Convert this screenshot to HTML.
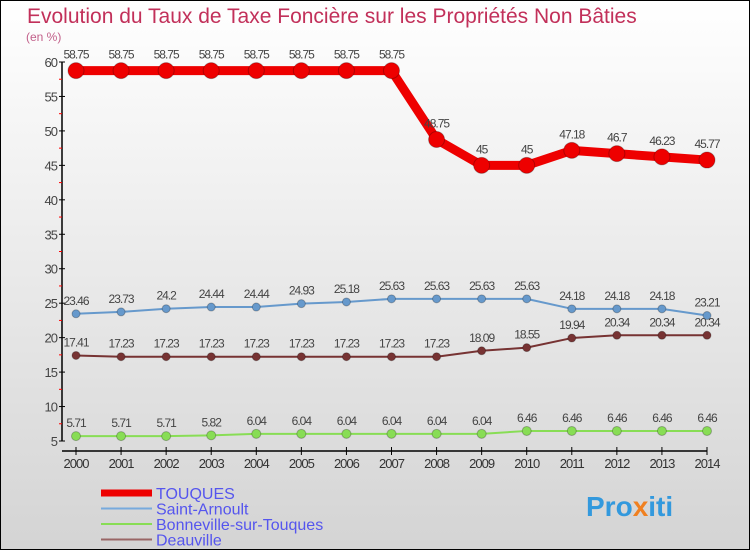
<!DOCTYPE html>
<html><head><meta charset="utf-8"><style>
body{margin:0}
#c{width:750px;height:550px;position:relative;box-sizing:border-box;border:1px solid #000;background:linear-gradient(#fff,#d4d4d4);font-family:"Liberation Sans",sans-serif;overflow:hidden}
</style></head><body>
<div id="c">
<svg id="s" width="748" height="548" style="position:absolute;left:0;top:0">
<text x="26" y="22" font-size="21" fill="#c2305a">Evolution du Taux de Taxe Foncière sur les Propriétés Non Bâties</text>
<text x="25" y="40" font-size="12" fill="#c2608a">(en %)</text>
<text x="585" y="515" font-size="28" font-weight="bold" fill="#3399dd">Pro<tspan fill="#f08020">x</tspan>iti</text>
</svg>
</div>
<script>
const years=[2000,2001,2002,2003,2004,2005,2006,2007,2008,2009,2010,2011,2012,2013,2014];
const touques=[58.75,58.75,58.75,58.75,58.75,58.75,58.75,58.75,48.75,45,45,47.18,46.7,46.23,45.77];
const saintArnoult=[23.46,23.73,24.2,24.44,24.44,24.93,25.18,25.63,25.63,25.63,25.63,24.18,24.18,24.18,23.21];
const bonneville=[5.71,5.71,5.71,5.82,6.04,6.04,6.04,6.04,6.04,6.04,6.46,6.46,6.46,6.46,6.46];
const deauville=[17.41,17.23,17.23,17.23,17.23,17.23,17.23,17.23,17.23,18.09,18.55,19.94,20.34,20.34,20.34];
const yTicks=[5,10,15,20,25,30,35,40,45,50,55,60];
const NS="http://www.w3.org/2000/svg";
const svg=document.getElementById('s');
const X=i=>75+i*(631/14);
const Y=v=>440-(v-5)*(379/55);
function el(t,a,p){const e=document.createElementNS(NS,t);for(const k in a)e.setAttribute(k,a[k]);(p||svg).appendChild(e);return e;}
let e=el('line',{x1:61,y1:61,x2:61,y2:440,stroke:'#000','stroke-width':1.5});

e=el('line',{x1:61,y1:450,x2:706,y2:450,stroke:'#000','stroke-width':1.5});

yTicks.forEach(v=>{
  el('line',{x1:58,x2:64,y1:Y(v),y2:Y(v),stroke:'#000'});
  if(v<60) el('line',{x1:58,x2:61,y1:Y(v+2.5),y2:Y(v+2.5),stroke:'red'});
  const t=el('text',{x:56,y:Y(v)+5,'font-size':13,fill:'#444','text-anchor':'end','letter-spacing':'-1'});
  t.textContent=v;
});
years.forEach((y,i)=>{
  el('line',{x1:X(i),x2:X(i),y1:446,y2:454,stroke:'#000'});
  const t=el('text',{x:X(i),y:467,'font-size':13,fill:'#333','text-anchor':'middle','letter-spacing':'-1'});
  t.textContent=y;
});
function series(name,d,col,w,r,ly){
  const g=el('g',{});
  el('polyline',{points:d.map((v,i)=>X(i)+','+Y(v)).join(' '),fill:'none',stroke:col,'stroke-width':w,'stroke-linejoin':'round'},g);
  d.forEach((v,i)=>{
    const c=el('circle',{cx:X(i),cy:Y(v),r:r,fill:col,stroke:'rgba(0,0,0,0.25)'},g);
    
    const t=el('text',{x:X(i),y:Y(v)+ly,'font-size':12,fill:'#444','text-anchor':'middle','letter-spacing':'-1'},g);
    t.textContent=v;
  });
}
series('bonneville',bonneville,'#88dd55',2,4.5,-9);
series('deauville',deauville,'#773333',2,4,-9);
series('saint-arnoult',saintArnoult,'#6699cc',2,4,-9);
series('touques',touques,'#ee0000',9,8,-12);
const leg=[['TOUQUES','#ee0000',7],['Saint-Arnoult','#77aadd',2],['Bonneville-sur-Touques','#88dd55',2],['Deauville','#996666',2]];
leg.forEach((l,i)=>{
  const y=492+i*15.5;
  const g=el('g',{});
  el('line',{x1:100,x2:151,y1:y,y2:y,stroke:l[1],'stroke-width':l[2]},g);
  const t=el('text',{x:155,y:y+6,'font-size':16,fill:'#5555ee'},g);t.textContent=l[0];
});
</script>
</body></html>
